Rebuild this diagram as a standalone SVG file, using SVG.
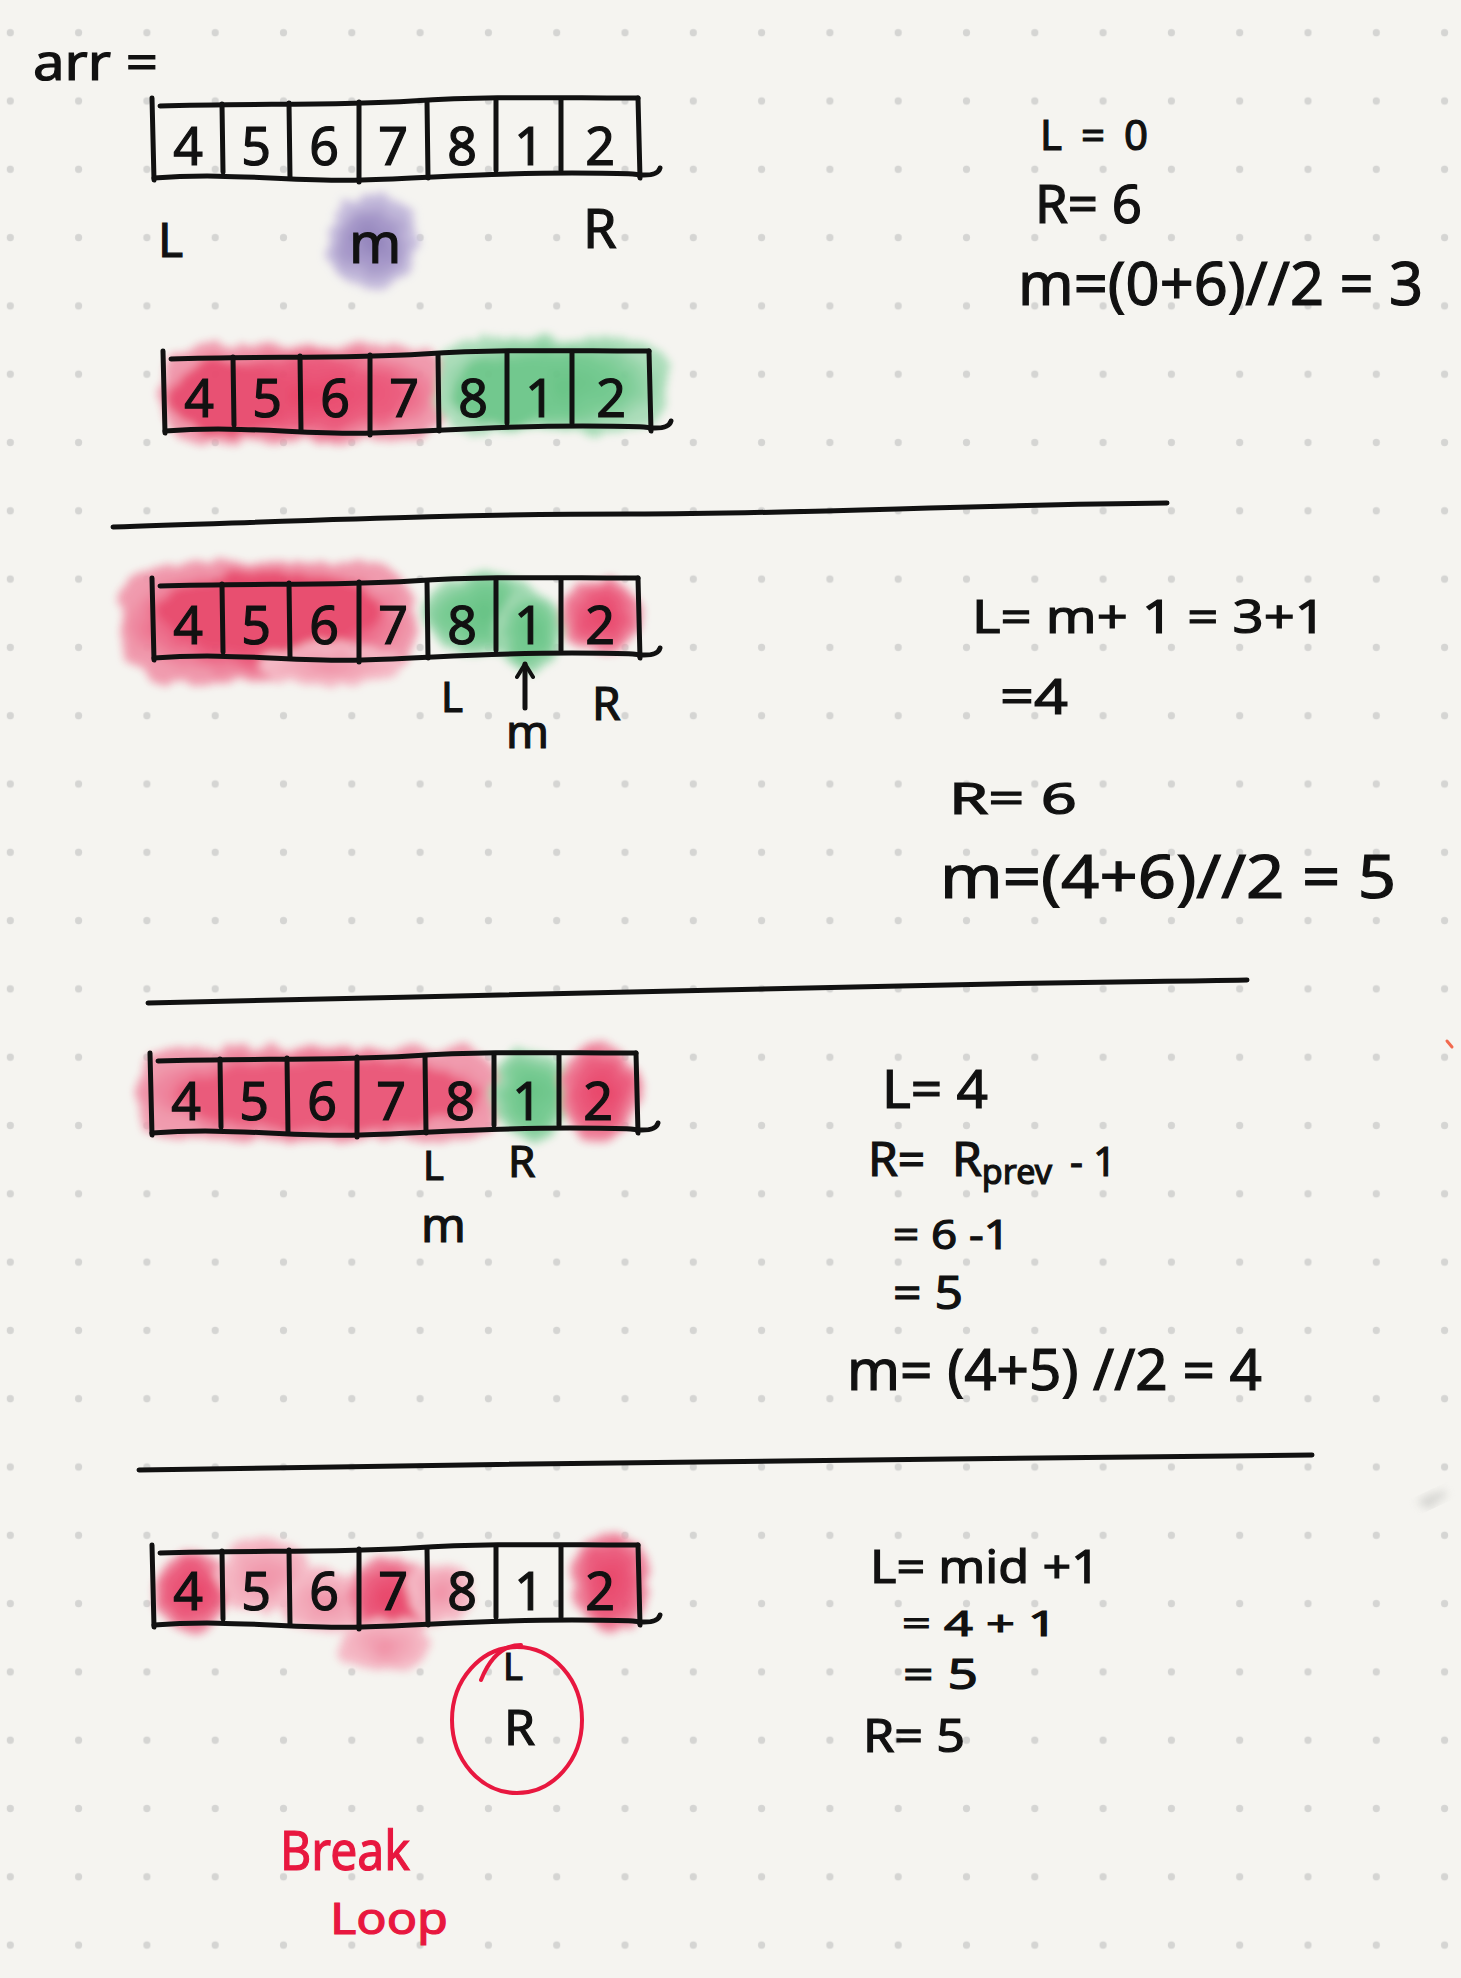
<svg xmlns="http://www.w3.org/2000/svg" xmlns:xlink="http://www.w3.org/1999/xlink" width="1461" height="1978" viewBox="0 0 1461 1978">
<style>
.hw{font-family:"Noto Sans","Liberation Sans",sans-serif;fill:#111;stroke:#111;stroke-width:1.2;}
.red{fill:#e8173f;stroke:#e8173f;}
.ink{fill:none;stroke:#111;stroke-width:5;stroke-linecap:round;stroke-linejoin:round;}
.dig{text-anchor:middle;font-size:52px;}
</style>
<defs>
<pattern id="dots" x="-23.85" y="-1.45" width="68.3" height="68.3" patternUnits="userSpaceOnUse">
<circle cx="34.15" cy="34.15" r="3.6" fill="#d5d5d3"/>
</pattern>
<filter id="wc" x="-40%" y="-40%" width="180%" height="180%">
<feTurbulence type="fractalNoise" baseFrequency="0.04" numOctaves="3" seed="7" result="n"/>
<feDisplacementMap in="SourceGraphic" in2="n" scale="18" xChannelSelector="R" yChannelSelector="G" result="d"/>
<feGaussianBlur in="d" stdDeviation="4"/>
</filter>
<radialGradient id="rG"><stop offset="0" stop-color="#e83c62"/><stop offset="0.65" stop-color="#eb5679"/><stop offset="1" stop-color="#f097ab"/></radialGradient>
<radialGradient id="lrG"><stop offset="0" stop-color="#f08ca2"/><stop offset="1" stop-color="#f5bcc8"/></radialGradient>
<radialGradient id="gG"><stop offset="0" stop-color="#5fc07f"/><stop offset="0.65" stop-color="#74ca90"/><stop offset="1" stop-color="#a9dcb8"/></radialGradient>
<radialGradient id="pG"><stop offset="0" stop-color="#8a7ab6"/><stop offset="0.6" stop-color="#a597c9"/><stop offset="1" stop-color="#cfc7e2"/></radialGradient>
<marker id="chev" viewBox="0 0 20 20" refX="16" refY="10" markerWidth="20" markerHeight="20" markerUnits="userSpaceOnUse" orient="auto">
<path d="M3,2 L16,10 L3,18" fill="none" stroke="#111" stroke-width="4" stroke-linecap="round" stroke-linejoin="round"/>
</marker>
<g id="box">
<path class="ink" d="M0,-2 L2,80"/>
<path class="ink" d="M8,6 C100,3 180,6 260,1 S400,-2 486,-2"/>
<path class="ink" d="M486,-2 L488,78"/>
<path class="ink" d="M2,78 C80,72 140,82 210,80 S330,73 420,73 S480,76 488,75 Q506,76 508,68"/>
<path class="ink" d="M70,4 L71,72"/>
<path class="ink" d="M137,3 L138,78"/>
<path class="ink" d="M207,2 L207,82"/>
<path class="ink" d="M275,1 L276,78"/>
<path class="ink" d="M344,0 L344,70"/>
<path class="ink" d="M409,0 L409,70"/>
</g>
<g id="digits">
<text class="hw dig" x="36" y="64">4</text>
<text class="hw dig" x="104" y="64">5</text>
<text class="hw dig" x="172" y="64">6</text>
<text class="hw dig" x="241" y="64">7</text>
<text class="hw dig" x="310" y="64">8</text>
<text class="hw dig" x="377" y="64">1</text>
<text class="hw dig" x="448" y="64">2</text>
</g>
</defs>

<rect width="1461" height="1978" fill="#f5f4f0"/>
<rect width="1461" height="1978" fill="url(#dots)"/>

<!-- watercolour highlights -->
<g id="highlights" filter="url(#wc)" opacity="0.95">
<ellipse cx="372" cy="242" rx="46" ry="48" fill="url(#pG)"/>
<!-- array 2 -->
<rect x="160" y="346" width="288" height="96" rx="38" fill="url(#rG)"/>
<ellipse cx="230" cy="398" rx="60" ry="38" fill="#e84a6d"/>
<rect x="436" y="338" width="230" height="94" rx="38" fill="url(#gG)"/>
<ellipse cx="505" cy="392" rx="55" ry="34" fill="#6cc689"/>
<!-- array 3 -->
<rect x="120" y="562" width="295" height="120" rx="50" fill="url(#rG)"/>
<ellipse cx="270" cy="612" rx="110" ry="40" fill="#e8466b"/>
<ellipse cx="330" cy="665" rx="70" ry="22" fill="url(#lrG)"/>
<ellipse cx="485" cy="614" rx="62" ry="42" fill="url(#gG)"/>
<ellipse cx="530" cy="632" rx="34" ry="40" fill="url(#gG)"/>
<ellipse cx="601" cy="616" rx="40" ry="36" fill="url(#rG)"/>
<!-- array 4 -->
<rect x="138" y="1048" width="362" height="92" rx="38" fill="url(#rG)"/>
<ellipse cx="330" cy="1095" rx="150" ry="34" fill="#ea5275"/>
<ellipse cx="532" cy="1095" rx="40" ry="46" fill="url(#gG)"/>
<ellipse cx="600" cy="1092" rx="40" ry="48" fill="url(#rG)"/>
<!-- array 5 -->
<ellipse cx="192" cy="1592" rx="38" ry="40" fill="url(#rG)"/>
<ellipse cx="265" cy="1575" rx="48" ry="36" fill="url(#lrG)"/>
<ellipse cx="325" cy="1602" rx="44" ry="32" fill="url(#lrG)"/>
<ellipse cx="390" cy="1600" rx="44" ry="42" fill="url(#rG)"/>
<ellipse cx="385" cy="1645" rx="44" ry="26" fill="url(#lrG)"/>
<ellipse cx="440" cy="1592" rx="34" ry="32" fill="url(#lrG)"/>
<ellipse cx="610" cy="1582" rx="40" ry="50" fill="url(#rG)"/>
</g>

<!-- arrays -->
<g id="array1"><use href="#box" x="152" y="100"/><use href="#digits" x="152" y="101"/></g>
<g id="array2"><use href="#box" x="163" y="353"/><use href="#digits" x="163" y="353"/></g>
<g id="array3"><use href="#box" x="152" y="580"/><use href="#digits" x="152" y="580"/></g>
<g id="array4"><use href="#box" x="150" y="1055"/><use href="#digits" x="150" y="1056"/></g>
<g id="array5"><use href="#box" x="152" y="1547"/><use href="#digits" x="152" y="1546"/></g>

<!-- separators -->
<g id="separators">
<path class="ink" d="M113,527 C300,521 450,514 631,514 S950,505 1167,503"/>
<path class="ink" d="M148,1003 C400,997 700,991 900,986 S1150,982 1247,980"/>
<path class="ink" d="M139,1470 C400,1466 700,1461 950,1459 S1200,1456 1312,1455"/>
</g>

<g id="connectors">
<path d="M525,708 L525,664" fill="none" stroke="#111" stroke-width="5" stroke-linecap="round" marker-end="url(#chev)"/>
</g>

<!-- labels -->
<g id="label-arr"><text class="hw" x="33" y="80" font-size="50" textLength="125" lengthAdjust="spacingAndGlyphs">arr =</text></g>
<g id="labels1">
<text class="hw" x="158" y="257" font-size="48">L</text>
<text class="hw" x="349" y="263" font-size="56">m</text>
<text class="hw" x="583" y="248" font-size="54">R</text>
</g>
<g id="labels3">
<text class="hw" x="441" y="712" font-size="42">L</text>
<text class="hw" x="506" y="748" font-size="46">m</text>
<text class="hw" x="592" y="720" font-size="46">R</text>
</g>
<g id="labels4">
<text class="hw" x="423" y="1180" font-size="40">L</text>
<text class="hw" x="508" y="1177" font-size="44">R</text>
<text class="hw" x="421" y="1242" font-size="48">m</text>
</g>
<g id="labels5">
<ellipse cx="517" cy="1720" rx="65" ry="73" fill="none" stroke="#e8173f" stroke-width="4"/>
<path d="M481,1680 Q495,1645 521,1645" fill="none" stroke="#e8173f" stroke-width="4" stroke-linecap="round"/>
<text class="hw" x="503" y="1680" font-size="38">L</text>
<text class="hw" x="504" y="1745" font-size="50">R</text>
<text class="hw red" x="280" y="1870" font-size="54" textLength="130" lengthAdjust="spacingAndGlyphs">Break</text>
<text class="hw red" x="330" y="1934" font-size="44" textLength="118" lengthAdjust="spacingAndGlyphs">Loop</text>
</g>

<!-- calculations -->
<g id="calc1">
<text class="hw" x="1040" y="150" font-size="42" textLength="108" lengthAdjust="spacing">L=0</text>
<text class="hw" x="1035" y="223" font-size="52" textLength="107" lengthAdjust="spacingAndGlyphs">R= 6</text>
<text class="hw" x="1018" y="305" font-size="60" textLength="405" lengthAdjust="spacingAndGlyphs">m=(0+6)//2 = 3</text>
</g>
<g id="calc2">
<text class="hw" x="972" y="633" font-size="46" textLength="354" lengthAdjust="spacingAndGlyphs">L= m+ 1 = 3+1</text>
<text class="hw" x="1000" y="714" font-size="50" textLength="68" lengthAdjust="spacingAndGlyphs">=4</text>
<text class="hw" x="949" y="814" font-size="44" textLength="128" lengthAdjust="spacingAndGlyphs">R= 6</text>
<text class="hw" x="940" y="898" font-size="60" textLength="456" lengthAdjust="spacingAndGlyphs">m=(4+6)//2 = 5</text>
</g>
<g id="calc3">
<text class="hw" x="882" y="1108" font-size="52" textLength="106" lengthAdjust="spacingAndGlyphs">L= 4</text>
<text class="hw" x="868" y="1176" font-size="48">R=</text>
<text class="hw" x="952" y="1176" font-size="48">R<tspan font-size="34" dy="8">prev</tspan></text>
<text class="hw" x="1070" y="1176" font-size="40">- 1</text>
<text class="hw" x="893" y="1249" font-size="40" textLength="117" lengthAdjust="spacingAndGlyphs">= 6 -1</text>
<text class="hw" x="893" y="1309" font-size="46" textLength="70" lengthAdjust="spacingAndGlyphs">= 5</text>
<text class="hw" x="847" y="1390" font-size="56" textLength="415" lengthAdjust="spacingAndGlyphs">m= (4+5) //2 = 4</text>
</g>
<g id="calc4">
<text class="hw" x="870" y="1583" font-size="46" textLength="230" lengthAdjust="spacingAndGlyphs">L= mid +1</text>
<text class="hw" x="902" y="1636" font-size="34" textLength="155" lengthAdjust="spacingAndGlyphs">= 4 + 1</text>
<text class="hw" x="903" y="1689" font-size="42" textLength="75" lengthAdjust="spacingAndGlyphs">= 5</text>
<text class="hw" x="863" y="1752" font-size="46" textLength="102" lengthAdjust="spacingAndGlyphs">R= 5</text>
</g>

<!-- stray marks -->
<path d="M1447,1041 L1452,1047" stroke="#f26a4f" stroke-width="3" stroke-linecap="round"/>
<ellipse cx="1432" cy="1499" rx="14" ry="5" fill="#c9c9c6" opacity="0.7" transform="rotate(-25 1432 1499)" filter="url(#wc)"/>
</svg>
